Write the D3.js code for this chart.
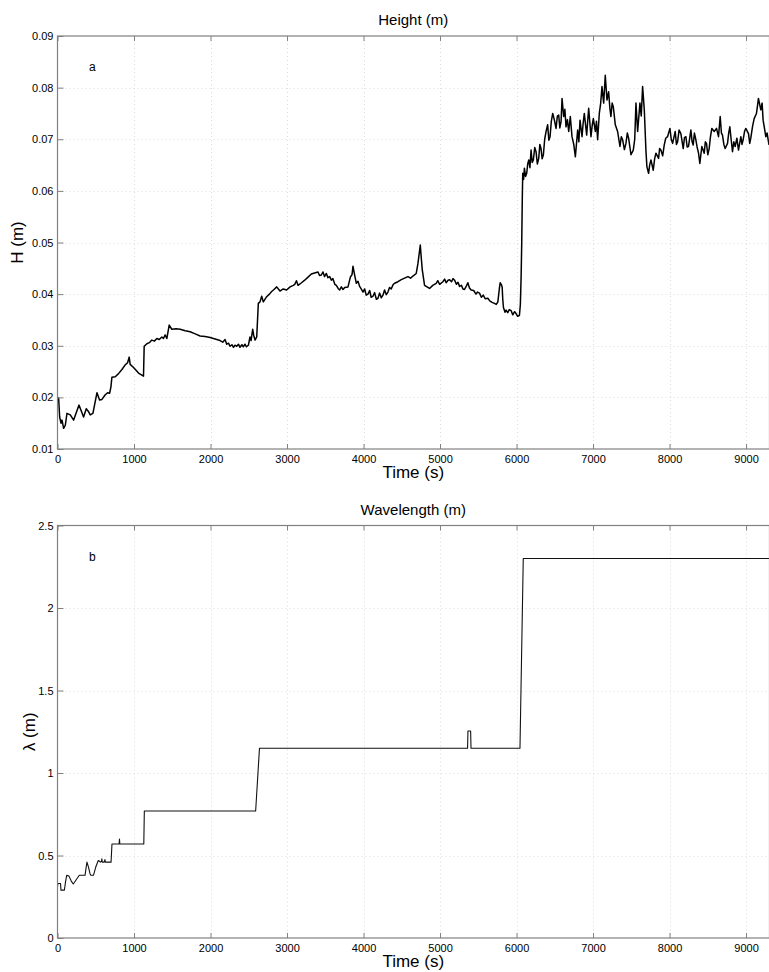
<!DOCTYPE html>
<html>
<head>
<meta charset="utf-8">
<script src="https://cdn.jsdelivr.net/npm/d3@7"></script>
<style>
  html, body { margin: 0; padding: 0; background: #fff; }
  svg { display: block; font-family: "Liberation Sans", Arial, sans-serif; }
</style>
</head>
<body>
<svg id="chart" width="769" height="972"></svg>
<script>
// ---------- DATA ----------
const xTicks = [0, 1000, 2000, 3000, 4000, 5000, 6000, 7000, 8000, 9000];
const heightTicks = [0.01, 0.02, 0.03, 0.04, 0.05, 0.06, 0.07, 0.08, 0.09];
const lambdaTicks = [0, 0.5, 1, 1.5, 2, 2.5];

const heightTime = [
  0,15,28,46,59,80,102,124,167,211,281,307,341,376,407,428,463,516,550,581,624,655,681,698,711,755,798,842,885,916,937,950,994,1059,1124,
  1133,1168,1200,1233,1266,1299,1330,1364,1385,1407,1429,1460,1494,1550,1603,1670,1734,1800,1864,1930,1995,2060,2125,2160,2190,2212,2235,
  2255,2280,2300,2320,2342,2365,2385,2410,2429,2450,2470,2495,2516,2530,2551,2565,2582,2604,2625,2647,2669,2690,2734,2770,2799,2830,2865,
  2908,2950,2995,3040,3082,3101,3123,3144,3190,3231,3275,3318,3360,3405,3425,3449,3470,3490,3514,3535,3558,3580,3600,3625,3645,3668,3688,
  3710,3732,3754,3797,3828,3850,3862,3884,3906,3928,3949,3970,3993,4015,4035,4058,4080,4100,4124,4145,4168,4189,4210,4232,4254,4275,4298,
  4319,4340,4362,4385,4406,4450,4494,4537,4581,4615,4646,4689,4711,4742,4755,4768,4798,4830,4863,4905,4950,4970,4995,5037,5060,5080,5105,
  5125,5150,5170,5190,5215,5235,5255,5280,5300,5320,5345,5364,5385,5407,5440,5470,5490,5516,5540,5565,5590,5625,5650,5680,5712,5735,5756,
  5775,5786,5800,5812,5820,5829,5850,5864,5885,5905,5930,5950,5975,5995,6015,6038,6050,6060,6068,6075,6081,6092,6103,6118,6133,6146,6160,
  6175,6190,6205,6220,6238,6255,6272,6290,6305,6320,6335,6351,6368,6386,6407,6422,6438,6455,6473,6495,6516,6534,6551,6566,6582,6595,6616,
  6632,6647,6665,6682,6703,6725,6748,6769,6799,6815,6830,6856,6870,6886,6917,6930,6943,6973,6990,7004,7030,7045,7060,7082,7100,7117,7139,
  7160,7182,7204,7220,7234,7250,7265,7291,7321,7352,7370,7387,7410,7430,7448,7465,7496,7526,7545,7561,7583,7613,7630,7648,7670,7691,7704,
  7726,7740,7757,7787,7805,7822,7857,7870,7887,7910,7931,7950,7974,8005,8022,8040,8074,8090,8105,8125,8148,8179,8195,8214,8230,8248,8279,
  8295,8309,8325,8344,8360,8379,8396,8422,8453,8468,8483,8500,8518,8535,8553,8584,8614,8640,8662,8678,8692,8710,8727,8758,8773,8788,8805,
  8823,8840,8858,8880,8901,8932,8947,8962,8980,8997,9032,9048,9062,9085,9106,9136,9150,9162,9193,9210,9223,9240,9258,9275,9300
];
const heightValue = [
  0.0200,0.0198,0.0162,0.0150,0.0156,0.0140,0.0146,0.0169,0.0166,0.0156,0.0185,0.0175,0.0162,0.0178,0.0172,0.0166,0.0169,0.0209,0.0195,0.0196,0.0205,0.0209,0.0208,0.0220,0.0239,0.0240,0.0246,0.0254,0.0263,0.0267,0.0278,0.0264,0.0258,0.0247,0.0241,
  0.0299,0.0304,0.0306,0.0311,0.0309,0.0314,0.0312,0.0317,0.0314,0.0321,0.0314,0.0340,0.0332,0.0333,0.0332,0.0329,0.0327,0.0323,0.0319,0.0318,0.0316,0.0313,0.0310,0.0307,0.0312,0.0303,0.0305,
  0.0299,0.0302,0.0297,0.0301,0.0299,0.0303,0.0297,0.0302,0.0298,0.0303,0.0298,0.0301,0.0317,0.0310,0.0332,0.0320,0.0311,0.0317,0.0382,0.0385,0.0396,0.0385,0.0395,0.0400,0.0405,0.0409,0.0414,
  0.0406,0.0410,0.0408,0.0414,0.0417,0.0419,0.0426,0.0417,0.0422,0.0427,0.0433,0.0439,0.0441,0.0443,0.0436,0.0437,0.0443,0.0434,0.0440,0.0432,0.0434,0.0427,0.0430,0.0419,0.0417,0.0411,0.0408,
  0.0414,0.0409,0.0413,0.0414,0.0433,0.0438,0.0454,0.0437,0.0421,0.0425,0.0415,0.0410,0.0404,0.0410,0.0398,0.0400,0.0407,0.0394,0.0396,0.0403,0.0390,0.0392,0.0402,0.0393,0.0398,0.0408,0.0399,
  0.0404,0.0413,0.0410,0.0418,0.0421,0.0424,0.0428,0.0431,0.0434,0.0431,0.0435,0.0440,0.0459,0.0495,0.0470,0.0447,0.0417,0.0414,0.0411,0.0417,0.0421,0.0426,0.0419,0.0424,0.0429,0.0422,0.0427,
  0.0428,0.0424,0.0430,0.0427,0.0419,0.0423,0.0415,0.0417,0.0410,0.0409,0.0416,0.0422,0.0412,0.0408,0.0407,0.0400,0.0404,0.0402,0.0394,0.0398,0.0391,0.0392,0.0387,0.0384,0.0382,0.0380,0.0385,
  0.0410,0.0422,0.0419,0.0414,0.0390,0.0374,0.0365,0.0369,0.0364,0.0370,0.0368,0.0360,0.0366,0.0362,0.0357,0.0359,0.0380,0.0434,0.0500,0.0582,0.0634,0.0622,0.0644,0.0628,0.0634,0.0652,0.0660,
  0.0645,0.0679,0.0655,0.0660,0.0684,0.0676,0.0652,0.0663,0.0690,0.0682,0.0662,0.0670,0.0700,0.0715,0.0728,0.0698,0.0705,0.0735,0.0750,0.0737,0.0721,0.0745,0.0747,0.0722,0.0734,0.0779,0.0744,
  0.0758,0.0724,0.0738,0.0715,0.0744,0.0705,0.0690,0.0666,0.0718,0.0695,0.0737,0.0705,0.0730,0.0750,0.0708,0.0735,0.0760,0.0705,0.0728,0.0740,0.0715,0.0735,0.0699,0.0750,0.0770,0.0802,0.0770,
  0.0824,0.0776,0.0792,0.0760,0.0744,0.0770,0.0763,0.0728,0.0715,0.0686,0.0705,0.0699,0.0680,0.0692,0.0712,0.0702,0.0670,0.0679,0.0700,0.0770,0.0715,0.0770,0.0745,0.0802,0.0757,0.0679,0.0647,
  0.0634,0.0650,0.0660,0.0640,0.0662,0.0673,0.0663,0.0682,0.0679,0.0668,0.0689,0.0702,0.0705,0.0721,0.0700,0.0692,0.0715,0.0690,0.0695,0.0718,0.0711,0.0682,0.0703,0.0705,0.0685,0.0686,0.0718,
  0.0695,0.0689,0.0712,0.0699,0.0685,0.0673,0.0653,0.0686,0.0673,0.0695,0.0692,0.0670,0.0682,0.0705,0.0721,0.0715,0.0721,0.0705,0.0744,0.0712,0.0708,0.0690,0.0682,0.0692,0.0712,0.0724,0.0700,
  0.0676,0.0695,0.0686,0.0702,0.0679,0.0705,0.0690,0.0699,0.0715,0.0721,0.0711,0.0692,0.0702,0.0725,0.0740,0.0750,0.0765,0.0779,0.0757,0.0770,0.0737,0.0722,0.0705,0.0712,0.0689
];

const lambdaTime = [
  0,5,40,45,90,105,120,150,180,206,240,285,360,372,385,405,425,436,470,500,533,550,560,575,580,585,610,620,625,700,712,
  805,810,815,1128,1135,2590,2640,5360,5365,5400,5405,6045,6088,9300
];
const lambdaValue = [
  0.31,0.33,0.33,0.29,0.29,0.34,0.38,0.375,0.345,0.327,0.35,0.38,0.38,0.42,0.46,0.43,0.39,0.38,0.38,0.43,0.47,0.465,0.46,0.465,0.48,0.46,0.46,0.475,0.46,0.46,0.57,
  0.57,0.60,0.57,0.57,0.77,0.77,1.15,1.15,1.255,1.255,1.15,1.15,2.30,2.30
];

// ---------- DRAW ----------
const svg = d3.select("#chart");
const left = 57.5, right = 769.5;

function panel(cfg) {
  const g = svg.append("g");
  const x = d3.scaleLinear().domain([0, 9300]).range([left, right - 0.5]);
  const y = d3.scaleLinear().domain(cfg.yDomain).range([cfg.bottom, cfg.top]);

  // grid
  const grid = g.append("g").attr("stroke", "#dcdcdc").attr("stroke-width", 1)
    .attr("stroke-dasharray", "1,3").attr("fill", "none");
  xTicks.filter(d => d > 0).forEach(d => {
    grid.append("line").attr("x1", Math.round(x(d)) + 0.5).attr("x2", Math.round(x(d)) + 0.5)
      .attr("y1", cfg.top).attr("y2", cfg.bottom);
  });
  cfg.yTicks.filter(d => d > cfg.yDomain[0] && d < cfg.yDomain[1]).forEach(d => {
    grid.append("line").attr("y1", Math.round(y(d)) + 0.5).attr("y2", Math.round(y(d)) + 0.5)
      .attr("x1", left).attr("x2", right);
  });

  // data line
  const line = d3.line().x((d, i) => x(cfg.t[i])).y((d, i) => y(cfg.v[i]));
  g.append("path").datum(cfg.v).attr("d", line).attr("fill", "none")
    .attr("stroke", cfg.color).attr("stroke-width", cfg.lw).attr("stroke-linejoin", "round");

  // axes
  const axisColor = "#808080";
  const ax = g.append("g").attr("transform", `translate(0,${cfg.bottom})`)
    .call(d3.axisBottom(x).tickValues(xTicks).tickFormat(d3.format("d")).tickSize(-5).tickSizeOuter(0).tickPadding(6));
  const axTop = g.append("g").attr("transform", `translate(0,${cfg.top})`)
    .call(d3.axisTop(x).tickValues(xTicks).tickFormat("").tickSize(-5).tickSizeOuter(0));
  const ay = g.append("g").attr("transform", `translate(${left},0)`)
    .call(d3.axisLeft(y).tickValues(cfg.yTicks).tickFormat(cfg.fmt).tickSize(-6).tickSizeOuter(0).tickPadding(4));
  [ax, axTop, ay].forEach(a => {
    a.select(".domain").remove();
    a.selectAll(".tick line").attr("stroke", axisColor);
    a.selectAll("text").attr("fill", "#000").style("font-size", "11px")
      .style("font-family", '"Liberation Sans", Arial, sans-serif');
  });
  // frame
  g.append("rect").attr("x", left).attr("y", cfg.top).attr("width", right - left)
    .attr("height", cfg.bottom - cfg.top).attr("fill", "none").attr("stroke", axisColor).attr("stroke-width", 1.2);

  // labels
  g.append("text").attr("x", (left + 769) / 2).attr("y", cfg.top - 11).attr("text-anchor", "middle")
    .style("font-size", "15px").text(cfg.title);
  g.append("text").attr("x", (left + 769) / 2).attr("y", cfg.bottom + 29).attr("text-anchor", "middle")
    .style("font-size", "17px").text("Time (s)");
  g.append("text").attr("transform", `translate(${cfg.ylabX},${(cfg.top + cfg.bottom) / 2}) rotate(-90)`)
    .attr("text-anchor", "middle").style("font-size", "17px").text(cfg.ylabel);
  g.append("text").attr("x", 89).attr("y", cfg.top + 35).style("font-size", "12px").text(cfg.tag);
}

panel({
  top: 36, bottom: 449, yDomain: [0.01, 0.09], yTicks: heightTicks, fmt: d3.format(".2f"),
  t: heightTime, v: heightValue, color: "#000", lw: 1.5,
  title: "Height (m)", ylabel: "H (m)", ylabX: 23, tag: "a"
});
panel({
  top: 525.5, bottom: 938, yDomain: [0, 2.5], yTicks: lambdaTicks, fmt: d => (d === 0 ? "0" : d3.format("")(d)),
  t: lambdaTime, v: lambdaValue, color: "#111", lw: 1.1,
  title: "Wavelength (m)", ylabel: "λ (m)", ylabX: 35, tag: "b"
});
</script>
</body>
</html>
